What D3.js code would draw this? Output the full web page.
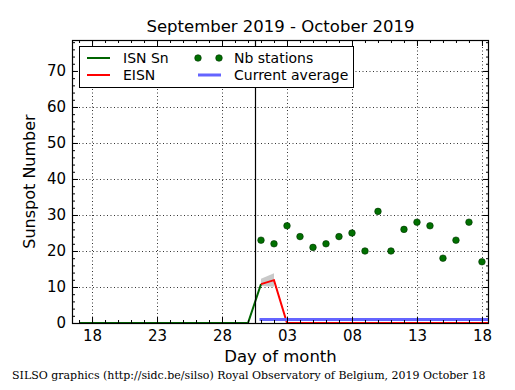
<!DOCTYPE html>
<html>
<head>
<meta charset="utf-8">
<script src="https://cdn.jsdelivr.net/npm/d3@7"></script>
<style>
  body { margin: 0; background: #fff; }
  text { font-family: "DejaVu Sans", sans-serif; fill: #000; }
</style>
</head>
<body>
<svg id="chart" width="515" height="390"></svg>
<script>
// daily values, one per day from the start date
var isnStart = "2019-09-17";
var isnValues = [0, 0, 0, 0, 0, 0, 0, 0, 0, 0, 0, 0, 0, 0, 10.8];

var eisnStart = "2019-10-01";
var eisnValues = [10.8, 11.9, 0, 0, 0, 0, 0, 0, 0, 0, 0, 0, 0, 0, 0, 0, 0, 0, 0];
var eisnLow = [10.3, 10.1];
var eisnHigh = [12.3, 13.8];

var stationsStart = "2019-10-01";
var stationsValues = [23, 22, 27, 24, 21, 22, 24, 25, 20, 31, 20, 26, 28, 27, 18, 23, 28, 17];

var averageDates = ["2019-10-01", "2019-10-19"];
var averageValue = 1.0;

var monthBreak = "2019-09-30T12";
var xDomain = ["2019-09-16T11", "2019-10-18T13"];
var xTicks = ["2019-09-18", "2019-09-23", "2019-09-28", "2019-10-03", "2019-10-08", "2019-10-13", "2019-10-18"];
var yMax = 78.6;
var yTicks = [0, 10, 20, 30, 40, 50, 60, 70];

(function() {
  var width = 515,
      height = 390;
  var left = 72, right = 489, top = 40, bottom = 323;

  var parseDay = d3.utcParse("%Y-%m-%d");
  var parseHour = d3.utcParse("%Y-%m-%dT%H");

  function series(start, values) {
    var d0 = parseDay(start);
    return values.map(function(v, i) {
      return { date: d3.utcDay.offset(d0, i), value: v };
    });
  }

  var isn = series(isnStart, isnValues);
  var eisn = series(eisnStart, eisnValues);
  var band = eisnLow.map(function(lo, i) {
    return { date: d3.utcDay.offset(parseDay(eisnStart), i), lo: lo, hi: eisnHigh[i] };
  });
  var stations = series(stationsStart, stationsValues);

  var x = d3.scaleUtc()
          .domain(xDomain.map(parseHour))
          .range([left, right]);
  var y = d3.scaleLinear()
          .domain([0, yMax])
          .range([bottom, top]);

  var svg = d3.select("#chart");
  svg.append("rect").attr("width", width).attr("height", height).attr("fill", "#fff");

  svg.append("defs").append("clipPath").attr("id", "plot")
     .append("rect")
     .attr("x", left).attr("y", top)
     .attr("width", right - left).attr("height", bottom - top);

  var majorX = xTicks.map(parseDay);
  var minorX = d3.utcDay.range(x.domain()[0], x.domain()[1]);
  var minorY = d3.range(0, yMax, 2);

  // grid
  var grid = svg.append("g")
          .attr("stroke", "#000")
          .attr("stroke-width", 0.8)
          .attr("stroke-dasharray", "1,2.5");
  grid.selectAll(".gx").data(majorX).enter().append("line")
      .attr("x1", function(d) { return Math.round(x(d)) + 0.5; })
      .attr("x2", function(d) { return Math.round(x(d)) + 0.5; })
      .attr("y1", top).attr("y2", bottom);
  grid.selectAll(".gy").data(yTicks.slice(1)).enter().append("line")
      .attr("y1", function(d) { return Math.round(y(d)) + 0.5; })
      .attr("y2", function(d) { return Math.round(y(d)) + 0.5; })
      .attr("x1", left).attr("x2", right);

  var plot = svg.append("g").attr("clip-path", "url(#plot)");

  plot.append("path")
      .datum(band)
      .attr("fill", "#bbbbbb")
      .attr("fill-opacity", 0.8)
      .attr("d", d3.area()
        .x(function(d) { return x(d.date); })
        .y0(function(d) { return y(d.lo); })
        .y1(function(d) { return y(d.hi); }));

  var line = d3.line()
          .x(function(d) { return x(d.date); })
          .y(function(d) { return y(d.value); });

  plot.append("path")
      .datum(isn)
      .attr("fill", "none")
      .attr("stroke", "#006400")
      .attr("stroke-width", 2)
      .attr("d", line);

  plot.append("path")
      .datum(eisn)
      .attr("fill", "none")
      .attr("stroke", "#ff0000")
      .attr("stroke-width", 2)
      .attr("d", line);

  plot.append("line")
      .attr("x1", x(parseDay(averageDates[0])))
      .attr("x2", x(parseDay(averageDates[1])))
      .attr("y1", y(averageValue))
      .attr("y2", y(averageValue))
      .attr("stroke", "#6464ff")
      .attr("stroke-width", 3)
      .attr("stroke-linecap", "square");

  plot.selectAll("circle")
      .data(stations)
      .enter().append("circle")
      .attr("cx", function(d) { return x(d.date); })
      .attr("cy", function(d) { return y(d.value); })
      .attr("r", 3.3)
      .attr("fill", "#007000")
      .attr("stroke", "#003000")
      .attr("stroke-width", 0.6);

  svg.append("line")
      .attr("x1", Math.round(x(parseHour(monthBreak))) + 0.5)
      .attr("x2", Math.round(x(parseHour(monthBreak))) + 0.5)
      .attr("y1", top).attr("y2", bottom)
      .attr("stroke", "#000")
      .attr("stroke-width", 1.2);

  // axes with inward ticks on all four sides
  function tidy(g) {
    g.select(".domain").remove();
    g.selectAll("line").attr("stroke", "#000");
    g.selectAll("text").attr("font-size", 15).attr("font-family", "DejaVu Sans");
  }

  svg.append("g")
      .attr("transform", "translate(0," + bottom + ")")
      .call(d3.axisBottom(x).tickValues(majorX).tickFormat(d3.utcFormat("%d"))
        .tickSizeInner(-6).tickSizeOuter(0).tickPadding(7))
      .call(tidy);
  svg.append("g")
      .attr("transform", "translate(0," + bottom + ")")
      .call(d3.axisBottom(x).tickValues(minorX).tickFormat("").tickSizeInner(-3).tickSizeOuter(0))
      .call(tidy);
  svg.append("g")
      .attr("transform", "translate(0," + top + ")")
      .call(d3.axisTop(x).tickValues(majorX).tickFormat("").tickSizeInner(-6).tickSizeOuter(0))
      .call(tidy);
  svg.append("g")
      .attr("transform", "translate(0," + top + ")")
      .call(d3.axisTop(x).tickValues(minorX).tickFormat("").tickSizeInner(-3).tickSizeOuter(0))
      .call(tidy);

  svg.append("g")
      .attr("transform", "translate(" + left + ",0)")
      .call(d3.axisLeft(y).tickValues(yTicks).tickSizeInner(-6).tickSizeOuter(0).tickPadding(6))
      .call(tidy);
  svg.append("g")
      .attr("transform", "translate(" + left + ",0)")
      .call(d3.axisLeft(y).tickValues(minorY).tickFormat("").tickSizeInner(-3).tickSizeOuter(0))
      .call(tidy);
  svg.append("g")
      .attr("transform", "translate(" + right + ",0)")
      .call(d3.axisRight(y).tickValues(yTicks).tickFormat("").tickSizeInner(-6).tickSizeOuter(0))
      .call(tidy);
  svg.append("g")
      .attr("transform", "translate(" + right + ",0)")
      .call(d3.axisRight(y).tickValues(minorY).tickFormat("").tickSizeInner(-3).tickSizeOuter(0))
      .call(tidy);

  svg.append("rect")
      .attr("x", left + 0.5).attr("y", top + 0.5)
      .attr("width", right - left - 1).attr("height", bottom - top)
      .attr("fill", "none")
      .attr("stroke", "#000")
      .attr("stroke-width", 1.2);

  // legend
  var lg = svg.append("g");
  lg.append("rect")
      .attr("x", 79.5).attr("y", 46.5)
      .attr("width", 274).attr("height", 41)
      .attr("fill", "#fff")
      .attr("stroke", "#000")
      .attr("stroke-width", 1);

  var legendLines = [
    { label: "ISN Sn", color: "#006400", w: 2, x: 87, y: 58 },
    { label: "EISN", color: "#ff0000", w: 2, x: 87, y: 75 },
    { label: "Current average", color: "#6464ff", w: 3, x: 198, y: 75 }
  ];
  legendLines.forEach(function(d) {
    lg.append("line")
        .attr("x1", d.x).attr("x2", d.x + 23)
        .attr("y1", d.y).attr("y2", d.y)
        .attr("stroke", d.color).attr("stroke-width", d.w);
    lg.append("text")
        .attr("x", d.x + 36).attr("y", d.y + 5)
        .attr("font-size", 14)
        .text(d.label);
  });
  [198, 219].forEach(function(cx) {
    lg.append("circle")
        .attr("cx", cx).attr("cy", 58).attr("r", 3.3)
        .attr("fill", "#007000").attr("stroke", "#003000").attr("stroke-width", 0.6);
  });
  lg.append("text").attr("x", 234).attr("y", 63).attr("font-size", 14).text("Nb stations");

  // titles
  svg.append("text")
      .attr("x", (left + right) / 2).attr("y", 32)
      .attr("text-anchor", "middle")
      .attr("font-size", 16.5)
      .text("September 2019 - October 2019");

  svg.append("text")
      .attr("x", (left + right) / 2).attr("y", 362)
      .attr("text-anchor", "middle")
      .attr("font-size", 16.5)
      .text("Day of month");

  svg.append("text")
      .attr("transform", "translate(35," + ((top + bottom) / 2) + ") rotate(-90)")
      .attr("text-anchor", "middle")
      .attr("font-size", 16)
      .text("Sunspot Number");

  svg.append("text")
      .attr("x", 12).attr("y", 379)
      .attr("style", "font-family:'DejaVu Serif',serif")
      .attr("font-size", 11)
      .text("SILSO graphics (http://sidc.be/silso) Royal Observatory of Belgium, 2019 October 18");
})();
</script>
</body>
</html>
